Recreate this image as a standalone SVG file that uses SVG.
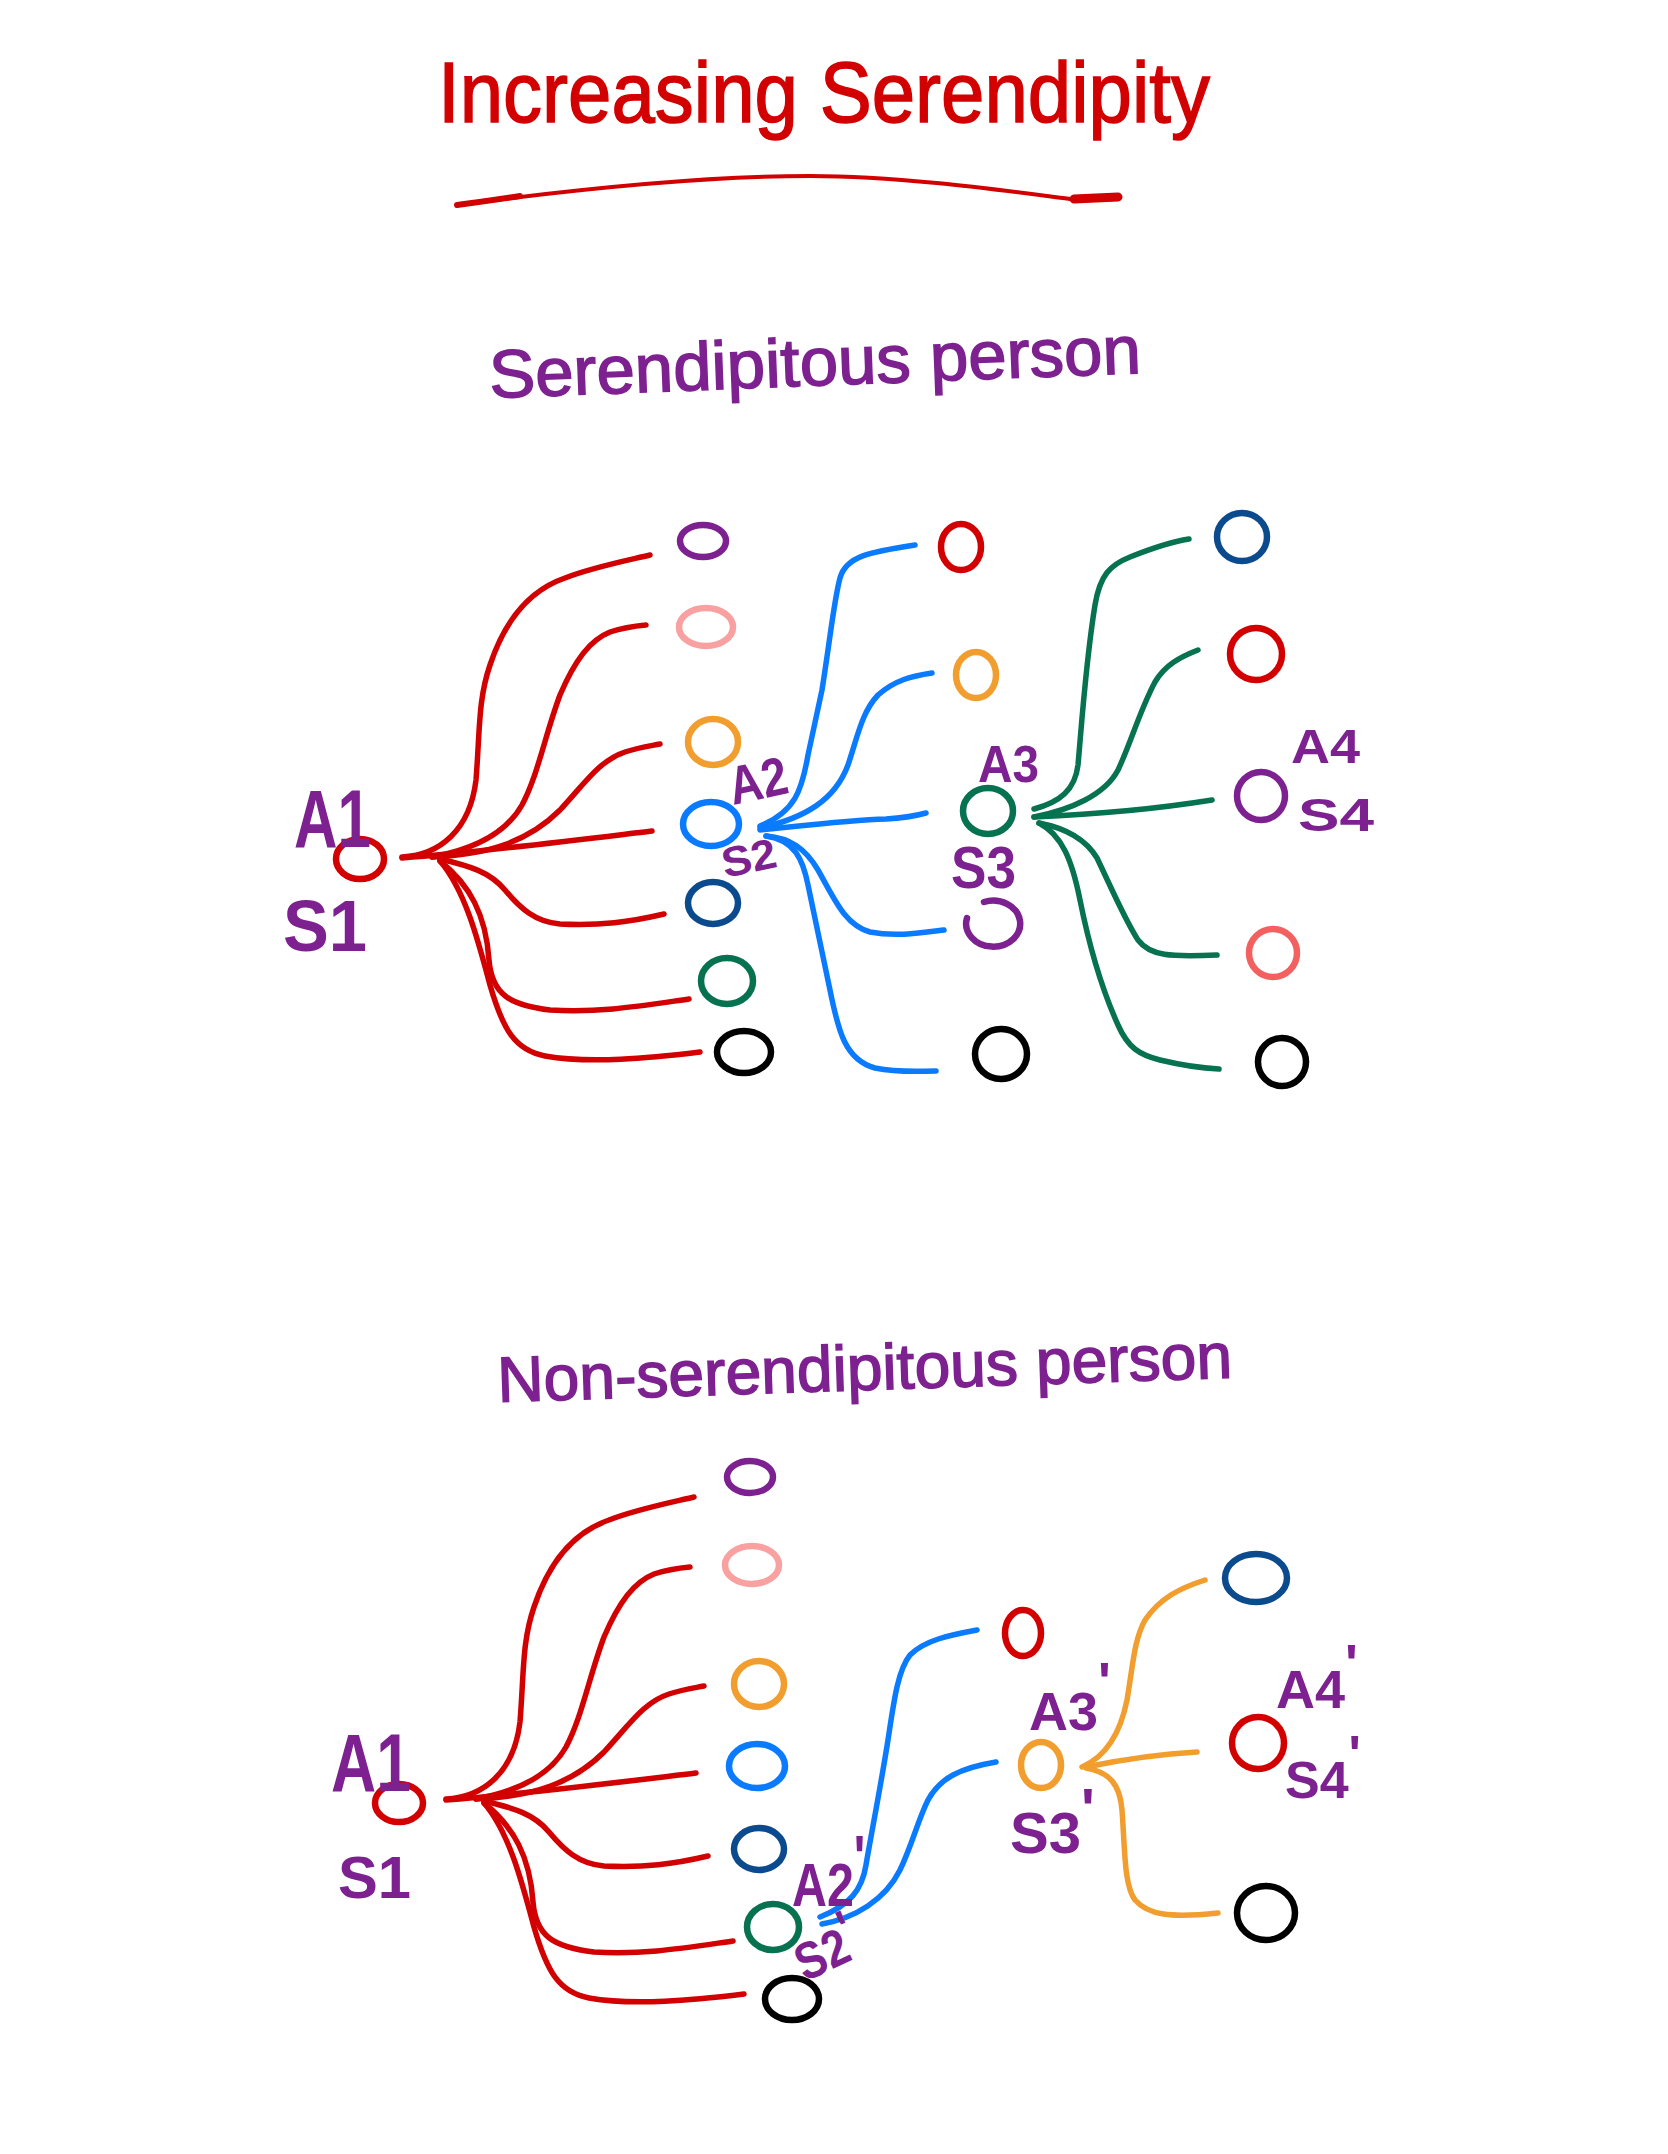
<svg xmlns="http://www.w3.org/2000/svg" width="1668" height="2154" viewBox="0 0 1668 2154">
<style>
.bg{fill:#ffffff}
.ln{fill:none;stroke-width:5.5;stroke-linecap:round;stroke-linejoin:round}
.nd{fill:none;stroke-width:6.5;stroke-linecap:round}
.red{stroke:#D20000}
.blu{stroke:#0A7BFF}
.grn{stroke:#06724F}
.org{stroke:#F29E2E}
.pur{stroke:#7E2190}
.pnk{stroke:#F9A0A0}
.dbl{stroke:#0C4A8E}
.blk{stroke:#000000}
.sal{stroke:#F36060}
.lbl{font-family:"Liberation Sans",Arial,sans-serif;font-weight:bold;fill:#7E2190}
.ttl{font-family:"Liberation Sans",Arial,sans-serif;stroke-width:1.5}
</style>
<rect class="bg" x="0" y="0" width="1668" height="2154"/>

<g id="title">
<text class="ttl" x="438" y="122" font-size="86" textLength="772" lengthAdjust="spacingAndGlyphs" fill="#D20000" stroke="#D20000">Increasing Serendipity</text>
<path d="M457,205 C600,186 720,176 810,176 C900,176 1000,190 1070,199" fill="none" stroke="#D20000" stroke-width="4" stroke-linecap="round"/>
<path d="M457,205 C480,202 500,199 520,196" fill="none" stroke="#D20000" stroke-width="6" stroke-linecap="round"/>
<path d="M1074,199 L1118,197" fill="none" stroke="#D20000" stroke-width="9" stroke-linecap="round"/>
</g>

<g id="heading-serendipitous">
<text class="ttl" x="490" y="398" font-size="68" textLength="652" lengthAdjust="spacingAndGlyphs" fill="#7E2190" stroke="#7E2190" transform="rotate(-2.2 490 398)">Serendipitous person</text>
</g>

<g id="heading-non-serendipitous">
<text class="ttl" x="498" y="1402" font-size="64" textLength="735" lengthAdjust="spacingAndGlyphs" fill="#7E2190" stroke="#7E2190" transform="rotate(-1.9 498 1402)">Non-serendipitous person</text>
</g>

<g id="connectors">
  <g id="top-red-fan">
    <path class="ln red" d="M402,857 C440,855 470,830 476,780 C480,730 478,700 490,665 C505,620 530,590 565,578 C590,568 620,562 650,555"/>
    <path class="ln red" d="M432,857 C470,850 505,835 522,805 C538,775 545,735 560,695 C575,660 590,640 610,632 C625,627 635,626 646,625"/>
    <path class="ln red" d="M432,857 C490,855 530,840 560,810 C585,783 600,760 625,752 C640,747 650,746 660,744"/>
    <path class="ln red" d="M402,858 C480,852 560,842 652,831"/>
    <path class="ln red" d="M440,859 C470,866 490,872 505,890 C520,908 535,922 560,924 C600,926 630,922 664,914"/>
    <path class="ln red" d="M440,861 C470,885 486,915 489,960 C492,995 510,1005 550,1010 C600,1013 640,1006 689,999"/>
    <path class="ln red" d="M440,861 C465,890 478,940 490,985 C503,1030 515,1050 545,1056 C590,1064 650,1058 700,1052"/>
  </g>
  <g id="top-blue-fan">
    <path class="ln blu" d="M760,826 C795,812 802,790 808,755 L822,690 C830,640 834,600 840,578 C846,556 870,552 915,545"/>
    <path class="ln blu" d="M760,828 C805,818 835,800 848,765 C858,735 862,712 878,695 C895,680 912,676 932,673"/>
    <path class="ln blu" d="M760,830 C800,826 850,820 886,819 C905,818 915,816 926,813"/>
    <path class="ln blu" d="M766,836 C790,838 805,848 818,870 C835,900 845,925 870,932 C895,937 920,933 944,930"/>
    <path class="ln blu" d="M766,836 C795,840 803,860 808,885 L830,990 C838,1030 845,1060 875,1068 C900,1073 920,1071 936,1071"/>
  </g>
  <g id="top-green-fan">
    <path class="ln grn" d="M1034,809 C1060,802 1075,790 1078,765 C1082,720 1086,660 1095,605 C1100,575 1110,565 1130,557 C1155,547 1170,542 1189,539"/>
    <path class="ln grn" d="M1034,817 C1070,810 1105,795 1118,770 C1130,745 1140,710 1155,682 C1165,665 1180,657 1198,650"/>
    <path class="ln grn" d="M1034,817 C1080,815 1150,810 1212,800"/>
    <path class="ln grn" d="M1039,823 C1065,828 1085,838 1097,858 C1110,885 1125,920 1138,940 C1150,956 1170,957 1217,955"/>
    <path class="ln grn" d="M1039,823 C1062,835 1072,860 1080,900 C1088,940 1100,985 1118,1025 C1128,1048 1140,1055 1160,1060 C1185,1066 1200,1068 1219,1069"/>
  </g>
  <g id="bottom-red-fan" transform="translate(44 942)">
    <path class="ln red" d="M402,857 C440,855 470,830 476,780 C480,730 478,700 490,665 C505,620 530,590 565,578 C590,568 620,562 650,555"/>
    <path class="ln red" d="M432,857 C470,850 505,835 522,805 C538,775 545,735 560,695 C575,660 590,640 610,632 C625,627 635,626 646,625"/>
    <path class="ln red" d="M432,857 C490,855 530,840 560,810 C585,783 600,760 625,752 C640,747 650,746 660,744"/>
    <path class="ln red" d="M402,858 C480,852 560,842 652,831"/>
    <path class="ln red" d="M440,859 C470,866 490,872 505,890 C520,908 535,922 560,924 C600,926 630,922 664,914"/>
    <path class="ln red" d="M440,861 C470,885 486,915 489,960 C492,995 510,1005 550,1010 C600,1013 640,1006 689,999"/>
    <path class="ln red" d="M440,861 C465,890 478,940 490,985 C503,1030 515,1050 545,1056 C590,1064 650,1058 700,1052"/>
  </g>
  <g id="bottom-blue-fan">
    <path class="ln blu" d="M820,1917 C850,1905 862,1890 866,1865 C872,1830 880,1790 888,1740 C894,1700 898,1670 910,1655 C925,1640 950,1635 977,1630"/>
    <path class="ln blu" d="M822,1924 C855,1918 885,1900 900,1870 C912,1845 918,1820 928,1800 C940,1778 960,1768 996,1762"/>
  </g>
  <g id="bottom-orange-fan">
    <path class="ln org" d="M1082,1767 C1105,1757 1120,1735 1127,1700 C1133,1665 1134,1640 1145,1620 C1160,1598 1180,1588 1205,1580"/>
    <path class="ln org" d="M1086,1767 C1120,1760 1160,1754 1197,1752"/>
    <path class="ln org" d="M1086,1768 C1110,1772 1120,1785 1122,1810 C1125,1850 1124,1885 1135,1900 C1148,1915 1170,1918 1218,1913"/>
  </g>
</g>

<!-- Top diagram nodes -->
<g id="top-s1"><ellipse class="nd red" cx="360" cy="859" rx="24" ry="20"/></g>
<g id="top-c1-purple"><ellipse class="nd pur" cx="703" cy="541" rx="23" ry="16"/></g>
<g id="top-c1-pink"><ellipse class="nd pnk" cx="706" cy="627" rx="27" ry="19"/></g>
<g id="top-c1-orange"><ellipse class="nd org" cx="713" cy="742" rx="25" ry="23"/></g>
<g id="top-s2"><ellipse class="nd blu" cx="711" cy="824" rx="28" ry="22"/></g>
<g id="top-c1-darkblue"><ellipse class="nd dbl" cx="713" cy="903" rx="25" ry="21"/></g>
<g id="top-c1-green"><ellipse class="nd grn" cx="727" cy="981" rx="26" ry="23"/></g>
<g id="top-c1-black"><ellipse class="nd blk" cx="744" cy="1052" rx="27" ry="21"/></g>

<g id="top-c2-red"><ellipse class="nd red" cx="961" cy="547" rx="20" ry="23"/></g>
<g id="top-c2-orange"><ellipse class="nd org" cx="976" cy="675" rx="20" ry="23"/></g>
<g id="top-s3"><ellipse class="nd grn" cx="988" cy="811" rx="25" ry="23"/></g>
<g id="top-c2-purple"><path class="nd pur" d="M984,902 A27,23 0 1 1 967,918"/></g>
<g id="top-c2-black"><ellipse class="nd blk" cx="1001" cy="1054" rx="26" ry="25"/></g>

<g id="top-c3-darkblue"><ellipse class="nd dbl" cx="1242" cy="537" rx="25" ry="24"/></g>
<g id="top-c3-red"><ellipse class="nd red" cx="1256" cy="654" rx="26" ry="26"/></g>
<g id="top-s4"><ellipse class="nd pur" cx="1261" cy="796" rx="24" ry="24"/></g>
<g id="top-c3-salmon"><ellipse class="nd sal" cx="1273" cy="953" rx="24" ry="24"/></g>
<g id="top-c3-black"><ellipse class="nd blk" cx="1282" cy="1062" rx="24" ry="24"/></g>

<!-- Top labels -->
<g id="top-labels">
<text class="lbl" x="294" y="847" font-size="82" textLength="77" lengthAdjust="spacingAndGlyphs">A1</text>
<text class="lbl" x="283" y="951" font-size="72" textLength="84" lengthAdjust="spacingAndGlyphs">S1</text>
<text class="lbl" x="733" y="805" font-size="54" textLength="59" lengthAdjust="spacingAndGlyphs" transform="rotate(-12 733 805)">A2</text>
<text class="lbl" x="725" y="878" font-size="42" textLength="55" lengthAdjust="spacingAndGlyphs" transform="rotate(-12 725 878)">S2</text>
<text class="lbl" x="978" y="782" font-size="52" textLength="61" lengthAdjust="spacingAndGlyphs">A3</text>
<text class="lbl" x="951" y="888" font-size="60" textLength="65" lengthAdjust="spacingAndGlyphs">S3</text>
<text class="lbl" x="1291" y="763" font-size="48" textLength="69" lengthAdjust="spacingAndGlyphs">A4</text>
<text class="lbl" x="1298" y="831" font-size="47" textLength="76" lengthAdjust="spacingAndGlyphs">S4</text>
</g>

<!-- Bottom diagram nodes -->
<g id="bot-s1"><ellipse class="nd red" cx="399" cy="1803" rx="24" ry="19"/></g>
<g id="bot-c1-purple"><ellipse class="nd pur" cx="750" cy="1477" rx="23" ry="16"/></g>
<g id="bot-c1-pink"><ellipse class="nd pnk" cx="752" cy="1565" rx="27" ry="19"/></g>
<g id="bot-c1-orange"><ellipse class="nd org" cx="759" cy="1684" rx="25" ry="23"/></g>
<g id="bot-c1-blue"><ellipse class="nd blu" cx="757" cy="1766" rx="28" ry="22"/></g>
<g id="bot-c1-darkblue"><ellipse class="nd dbl" cx="759" cy="1849" rx="25" ry="21"/></g>
<g id="bot-s2"><ellipse class="nd grn" cx="773" cy="1927" rx="26" ry="23"/></g>
<g id="bot-c1-black"><ellipse class="nd blk" cx="792" cy="1999" rx="27" ry="21"/></g>

<g id="bot-c2-red"><ellipse class="nd red" cx="1023" cy="1633" rx="18" ry="23"/></g>
<g id="bot-s3"><ellipse class="nd org" cx="1041" cy="1765" rx="20" ry="23"/></g>

<g id="bot-c3-darkblue"><ellipse class="nd dbl" cx="1256" cy="1578" rx="31" ry="24"/></g>
<g id="bot-s4"><ellipse class="nd red" cx="1258" cy="1743" rx="26" ry="26"/></g>
<g id="bot-c3-black"><ellipse class="nd blk" cx="1266" cy="1913" rx="29" ry="27"/></g>

<!-- Bottom labels -->
<g id="bottom-labels">
<text class="lbl" x="331" y="1791" font-size="82" textLength="80" lengthAdjust="spacingAndGlyphs">A1</text>
<text class="lbl" x="338" y="1898" font-size="60" textLength="73" lengthAdjust="spacingAndGlyphs">S1</text>
<text class="lbl" font-size="62" transform="translate(792 1906) scale(0.78 1)" x="0" y="0">A2<tspan dy="-28">'</tspan></text>
<text class="lbl" font-size="52" transform="translate(805 1982) rotate(-25) scale(0.85 1)" x="0" y="0">S2<tspan dy="-14">'</tspan></text>
<text class="lbl" x="1029" y="1730" font-size="54">A3<tspan dy="-30">'</tspan></text>
<text class="lbl" x="1010" y="1853" font-size="58">S3<tspan dy="-24">'</tspan></text>
<text class="lbl" x="1276" y="1708" font-size="54">A4<tspan dy="-26">'</tspan></text>
<text class="lbl" x="1285" y="1798" font-size="52">S4<tspan dy="-26">'</tspan></text>
</g>
</svg>
